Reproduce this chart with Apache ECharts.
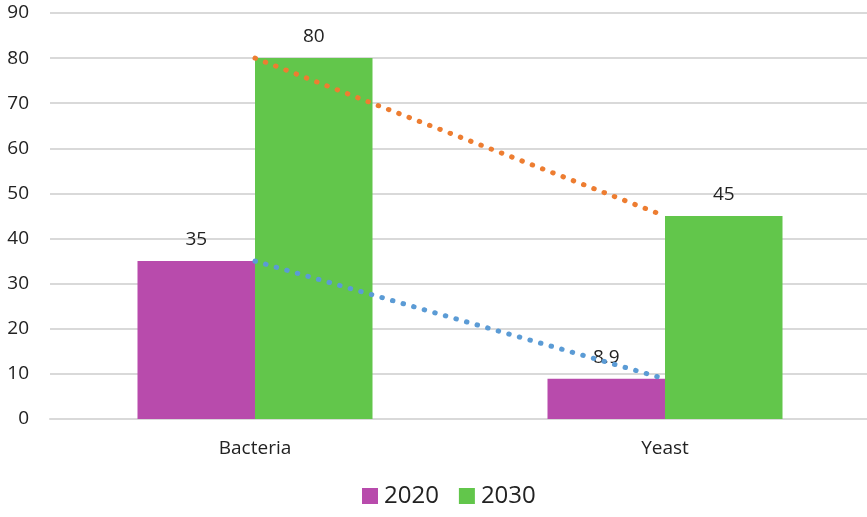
<!DOCTYPE html>
<html>
<head>
<meta charset="utf-8">
<script src="https://cdn.jsdelivr.net/npm/echarts@6/dist/echarts.min.js"></script>
<style>
  html, body { margin: 0; padding: 0; background: #ffffff; overflow: hidden; }
  #wrap { width: 867px; height: 517px; overflow: hidden; }
  #chart { width: 870px; height: 517px; }
</style>
</head>
<body>
<div id="wrap"><div id="chart"></div></div>
<script>
// Categories and values
const categories = ['Bacteria', 'Yeast'];
const values2020 = [35, 8.9];
const values2030 = [80, 45];
const seriesNames = ['2020', '2030'];

const FONT = '"Open Sans", "Noto Sans", sans-serif';
const TEXT = '#222222';

const chart = echarts.init(document.getElementById('chart'), null, { renderer: 'canvas' });

// round-capped dotted trend line
const dotted = (color) => ({
  color: color,
  width: 5,
  type: [0.5, 10.5],
  cap: 'round'
});

const barLabel = {
  show: true,
  position: 'top',
  distance: 12,
  fontFamily: FONT,
  fontSize: 19,
  color: TEXT
};

chart.setOption({
  animation: false,
  backgroundColor: '#ffffff',
  grid: { left: 50, right: 0, top: 13, bottom: 98, containLabel: false },
  legend: {
    data: seriesNames,
    bottom: 4,
    left: 357,
    itemWidth: 16,
    itemHeight: 16,
    itemGap: 20,
    icon: 'rect',
    textStyle: { fontFamily: FONT, fontSize: 24, color: TEXT, padding: [0, 0, 0, 1] }
  },
  xAxis: {
    type: 'category',
    data: categories,
    boundaryGap: true,
    axisLine: { show: true, lineStyle: { color: '#d9d9d9', width: 2 } },
    axisTick: { show: false },
    axisLabel: { fontFamily: FONT, fontSize: 19, color: TEXT, margin: 20 }
  },
  yAxis: {
    type: 'value',
    min: 0,
    max: 90,
    interval: 10,
    axisLine: { show: false },
    axisTick: { show: false },
    splitLine: { lineStyle: { color: '#d9d9d9', width: 2 } },
    axisLabel: { fontFamily: FONT, fontSize: 19, color: TEXT, margin: 21 }
  },
  series: [
    {
      name: '2020',
      type: 'bar',
      data: values2020,
      barWidth: 117.5,
      barGap: '0%',
      itemStyle: { color: '#b84bac' },
      label: barLabel
    },
    {
      name: '2030',
      type: 'bar',
      data: values2030,
      barWidth: 117.5,
      barGap: '0%',
      itemStyle: { color: '#62c64b' },
      label: barLabel
    },
    {
      name: 'trend2030',
      type: 'line',
      data: values2030,
      symbol: 'none',
      z: 5,
      lineStyle: dotted('#ed7d31')
    },
    {
      name: 'trend2020',
      type: 'line',
      data: values2020,
      symbol: 'none',
      z: 5,
      lineStyle: dotted('#5b9bd5')
    }
  ]
});
</script>
</body>
</html>
